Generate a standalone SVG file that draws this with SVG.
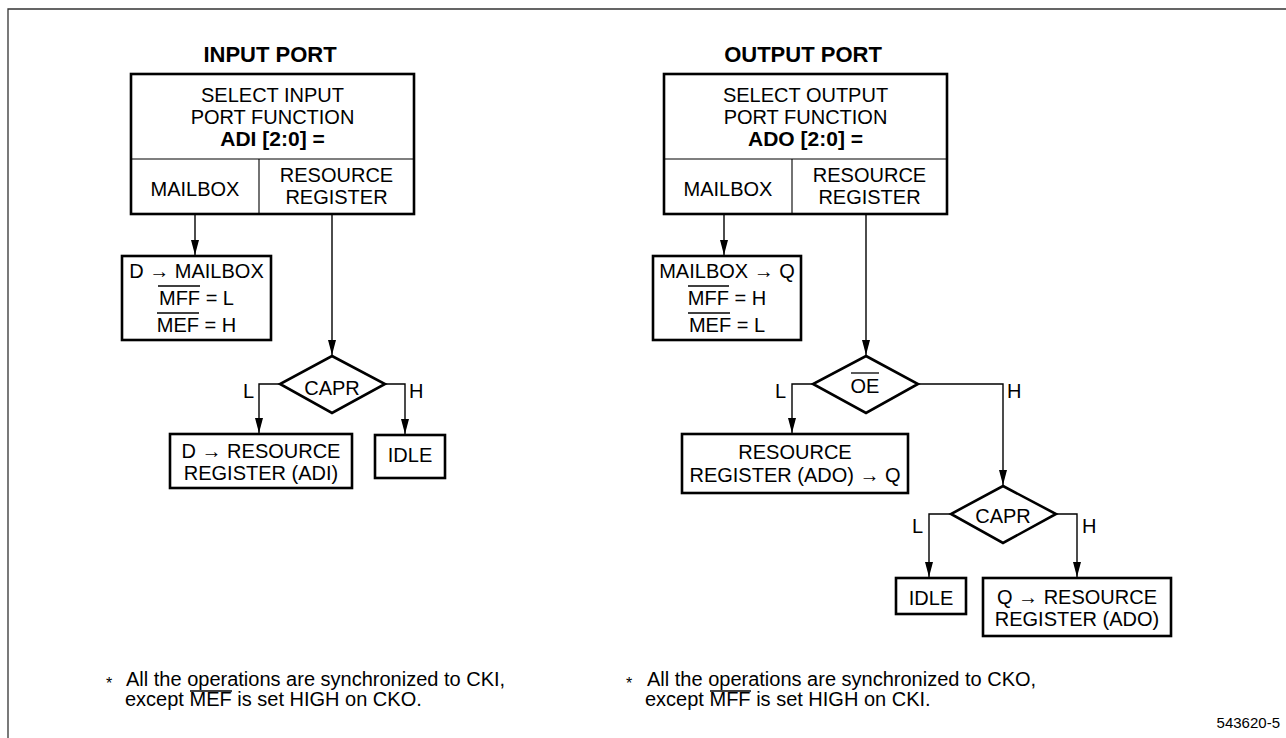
<svg xmlns="http://www.w3.org/2000/svg" width="1286" height="738" viewBox="0 0 1286 738">
<defs>
<style>
text{font-family:"Liberation Sans",Arial,Helvetica,sans-serif;fill:#000}
.t{font-size:20px;text-anchor:middle}
.tl{font-size:20px}
.b{font-size:21px;font-weight:bold;text-anchor:middle}
.ttl{font-size:22px;font-weight:bold;text-anchor:middle}
.box{fill:#fff;stroke:#000;stroke-width:2.6}
.div{stroke:#000;stroke-width:1.1;fill:none}
.ob{stroke:#000;stroke-width:1.3}
.con path,.con line{fill:none;stroke:#000;stroke-width:1.4}
.arr{marker-end:url(#ah)}
.frame{stroke:#333;stroke-width:1.3;fill:none}
.star{font-size:16px}
</style>
<marker id="ah" markerUnits="userSpaceOnUse" viewBox="0 0 15 8" refX="15" refY="4" markerWidth="15" markerHeight="8" orient="auto">
<path d="M0,0 L15,4 L0,8 Z" fill="#000"/>
</marker>
</defs>
<rect width="1286" height="738" fill="#fff"/>
<path class="frame" d="M8,738 L8,9 L1286,9"/>

<!-- INPUT PORT -->
<text id="title-in" class="ttl" x="270" y="62">INPUT PORT</text>
<g id="in-select">
<rect class="box" x="131" y="74" width="283" height="140"/>
<line class="div" x1="131" y1="159" x2="414" y2="159"/>
<line class="div" x1="259" y1="159" x2="259" y2="214"/>
<text class="t" x="272.5" y="102">SELECT INPUT</text>
<text class="t" x="272.5" y="124">PORT FUNCTION</text>
<text class="b" x="272.5" y="146">ADI [2:0] =</text>
<text class="t" x="195" y="196">MAILBOX</text>
<text class="t" x="336.5" y="182">RESOURCE</text>
<text class="t" x="336.5" y="204">REGISTER</text>
</g>
<g id="in-mailbox">
<rect class="box" x="122" y="256" width="149" height="84"/>
<text class="t" x="196.5" y="278">D → MAILBOX</text>
<text class="t" x="196.5" y="305">MFF = L</text>
<text class="t" x="196.5" y="332">MEF = H</text>
<line class="ob" x1="158" y1="286" x2="200" y2="286"/>
<line class="ob" x1="157" y1="313" x2="199" y2="313"/>
</g>
<g id="in-capr">
<polygon class="box" points="332,356 385,384 332,413 280,384"/>
<text class="t" x="332" y="395">CAPR</text>
</g>
<g id="in-resreg">
<rect class="box" x="170" y="434" width="182" height="54"/>
<text class="t" x="261" y="458">D → RESOURCE</text>
<text class="t" x="261" y="480">REGISTER (ADI)</text>
</g>
<g id="in-idle">
<rect class="box" x="375" y="435" width="70" height="43"/>
<text class="t" x="410" y="462">IDLE</text>
</g>

<!-- OUTPUT PORT -->
<text id="title-out" class="ttl" x="803" y="62">OUTPUT PORT</text>
<g id="out-select">
<rect class="box" x="664" y="74" width="283" height="140"/>
<line class="div" x1="664" y1="159" x2="947" y2="159"/>
<line class="div" x1="792" y1="159" x2="792" y2="214"/>
<text class="t" x="805.5" y="102">SELECT OUTPUT</text>
<text class="t" x="805.5" y="124">PORT FUNCTION</text>
<text class="b" x="805.5" y="146">ADO [2:0] =</text>
<text class="t" x="728" y="196">MAILBOX</text>
<text class="t" x="869.5" y="182">RESOURCE</text>
<text class="t" x="869.5" y="204">REGISTER</text>
</g>
<g id="out-mailbox">
<rect class="box" x="653" y="256" width="148" height="84"/>
<text class="t" x="727" y="278">MAILBOX → Q</text>
<text class="t" x="727" y="305">MFF = H</text>
<text class="t" x="727" y="332">MEF = L</text>
<line class="ob" x1="688" y1="286" x2="729" y2="286"/>
<line class="ob" x1="688" y1="313" x2="730" y2="313"/>
</g>
<g id="out-oe">
<polygon class="box" points="866,356 918,384 866,413 813,384"/>
<text class="t" x="865" y="393">OE</text>
<line class="ob" x1="851" y1="373" x2="879" y2="373"/>
</g>
<g id="out-resreg">
<rect class="box" x="682" y="434" width="226" height="59"/>
<text class="t" x="795" y="459">RESOURCE</text>
<text class="t" x="795" y="482">REGISTER (ADO) → Q</text>
</g>
<g id="out-capr">
<polygon class="box" points="1003,486 1056,514 1003,543 951,514"/>
<text class="t" x="1003" y="523">CAPR</text>
</g>
<g id="out-idle">
<rect class="box" x="896" y="578" width="70" height="36"/>
<text class="t" x="931" y="605">IDLE</text>
</g>
<g id="out-qres">
<rect class="box" x="983" y="578" width="188" height="58"/>
<text class="t" x="1077" y="604">Q → RESOURCE</text>
<text class="t" x="1077" y="626">REGISTER (ADO)</text>
</g>

<!-- connectors -->
<g id="connectors" class="con">
<line class="arr" x1="195" y1="215" x2="195" y2="255"/>
<line class="arr" x1="332" y1="215" x2="332" y2="355"/>
<path class="arr" d="M280,384 H259 V433"/>
<path class="arr" d="M385,384 H405 V434"/>
<line class="arr" x1="724" y1="215" x2="724" y2="255"/>
<line class="arr" x1="866" y1="215" x2="866" y2="355"/>
<path class="arr" d="M813,384 H792 V433"/>
<path class="arr" d="M918,384 H1003 V485"/>
<path class="arr" d="M951,514 H929 V577"/>
<path class="arr" d="M1056,514 H1077 V577"/>
<text class="tl" x="254" y="398" text-anchor="end">L</text>
<text class="tl" x="409" y="398">H</text>
<text class="tl" x="786" y="398" text-anchor="end">L</text>
<text class="tl" x="1007" y="398">H</text>
<text class="tl" x="923" y="533" text-anchor="end">L</text>
<text class="tl" x="1082" y="533">H</text>
</g>

<!-- footnotes -->
<g id="note-in">
<text class="star" x="106" y="689">*</text>
<text class="tl" x="126" y="686">All the operations are synchronized to CKI,</text>
<text class="tl" x="125" y="706">except MEF is set HIGH on CKO.</text>
<line class="ob" x1="190" y1="691" x2="232" y2="691"/>
</g>
<g id="note-out">
<text class="star" x="626" y="689">*</text>
<text class="tl" x="647" y="686">All the operations are synchronized to CKO,</text>
<text class="tl" x="645" y="706">except MFF is set HIGH on CKI.</text>
<line class="ob" x1="710" y1="691" x2="751" y2="691"/>
</g>
<text id="fig-id" x="1280" y="728" style="font-size:15px;text-anchor:end">543620-5</text>
</svg>
